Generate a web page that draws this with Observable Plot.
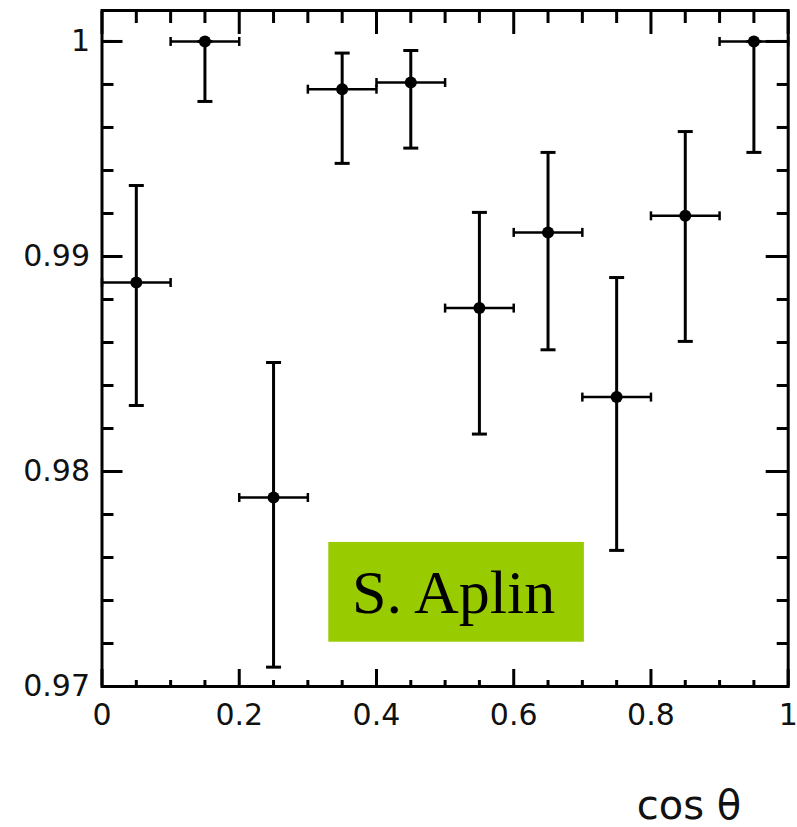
<!DOCTYPE html>
<html><head><meta charset="utf-8">
<script src="https://cdn.jsdelivr.net/npm/d3@7"></script>
<script src="https://cdn.jsdelivr.net/npm/@observablehq/plot@0.6"></script>
<style>html,body{margin:0;padding:0;background:#fff;overflow:hidden}</style>
</head><body><div id="chart"></div>
<script>
// Bin centres and edges (cos θ)
const binCenter = [0.05, 0.15, 0.25, 0.35, 0.45, 0.55, 0.65, 0.75, 0.85, 0.95];
const binLow    = [0.0, 0.1, 0.2, 0.3, 0.4, 0.5, 0.6, 0.7, 0.8, 0.9];
const binHigh   = [0.1, 0.2, 0.3, 0.4, 0.5, 0.6, 0.7, 0.8, 0.9, 1.0];
// Efficiency values and error-bar ends
const efficiency = [0.98879, 1.0000, 0.97879, 0.99778, 0.99809, 0.98760, 0.99112, 0.98346, 0.99189, 1.0000];
const errUpper   = [0.99330, 1.0000, 0.98507, 0.99946, 0.99958, 0.99205, 0.99484, 0.98902, 0.99581, 1.0000];
const errLower   = [0.98307, 0.99721, 0.97090, 0.99433, 0.99504, 0.98174, 0.98566, 0.97633, 0.98605, 0.99484];
// Tick values
const yMajor = [0.97, 0.98, 0.99, 1];
const yMinor = [0.972, 0.974, 0.976, 0.978, 0.982, 0.984, 0.986, 0.988, 0.992, 0.994, 0.996, 0.998, 1.0];
const xMajor = [0, 0.2, 0.4, 0.6, 0.8, 1];
const xMinor = [0.05, 0.1, 0.15, 0.25, 0.3, 0.35, 0.45, 0.5, 0.55, 0.65, 0.7, 0.75, 0.85, 0.9, 0.95];
const xLabels = ["0", "0.2", "0.4", "0.6", "0.8", "1"];
const yLabels = ["0.97", "0.98", "0.99", "1"];
const xTitle = "cos θ";
// Annotation box (data units)
const noteText = ["S. Aplin"];
const noteBox = [{x1: 0.3305, x2: 0.703, y1: 0.97206, y2: 0.97670, tx: 0.5125, ty: 0.97432}];

const data = binCenter.map((x, i) => ({
  x, lo: binLow[i], hi: binHigh[i], y: efficiency[i], up: errUpper[i], dn: errLower[i]
}));

const hCap = {draw(ctx) { ctx.moveTo(-7.5, 0); ctx.lineTo(7.5, 0); }};
const vCap = {draw(ctx) { ctx.moveTo(0, -4.5); ctx.lineTo(0, 4.5); }};

const font = "DejaVu Sans, sans-serif";
const chart = Plot.plot({
  width: 797,
  height: 827,
  marginLeft: 101.5,
  marginRight: 9.3,
  marginTop: 10,
  marginBottom: 141,
  style: {fontFamily: font, fontSize: "30px", color: "#000", background: "#fff"},
  x: {domain: [0, 1]},
  y: {domain: [0.97, 1.00144]},
  marks: [
    // annotation
    Plot.rect(noteBox, {x1: "x1", x2: "x2", y1: "y1", y2: "y2", fill: "#99cc00"}),
    Plot.text(noteBox, {x: "tx", y: "ty", text: () => noteText[0], fontFamily: "Liberation Serif, Times New Roman, serif", fontSize: 62, fill: "#000", lineAnchor: "middle"}),
    // ticks: left / right / bottom / top (inward)
    Plot.axisY(yMajor, {anchor: "left", tickSize: -21, tickFormat: () => "", strokeWidth: 3}),
    Plot.axisY(yMinor, {anchor: "left", tickSize: -12, tickFormat: () => "", strokeWidth: 3}),
    Plot.axisY(yMajor, {anchor: "right", tickSize: -23, tickFormat: () => "", strokeWidth: 3}),
    Plot.axisY(yMinor, {anchor: "right", tickSize: -12, tickFormat: () => "", strokeWidth: 3}),
    Plot.axisX(xMajor, {anchor: "bottom", tickSize: -17, tickFormat: () => "", strokeWidth: 3}),
    Plot.axisX(xMinor, {anchor: "bottom", tickSize: -6, tickFormat: () => "", strokeWidth: 3}),
    Plot.axisX(xMajor, {anchor: "top", tickSize: -23, tickFormat: () => "", strokeWidth: 3}),
    Plot.axisX(xMinor, {anchor: "top", tickSize: -12, tickFormat: () => "", strokeWidth: 3}),
    // labels
    Plot.axisY(yMajor, {anchor: "left", tickSize: 0, tickPadding: 12, tickFormat: (d, i) => yLabels[i], fill: "#111", fontSize: 30}),
    Plot.axisX(xMajor, {anchor: "bottom", tickSize: 0, tickPadding: 17, tickFormat: (d, i) => xLabels[i], fill: "#111", fontSize: 30}),
    Plot.text([xTitle], {frameAnchor: "bottom-right", text: d => d, dx: -47, dy: 132, textAnchor: "end", lineAnchor: "bottom", fontSize: 40, fill: "#111"}),
    // error bars
    Plot.ruleX(data, {x: "x", y1: "dn", y2: "up", stroke: "#000", strokeWidth: 3}),
    Plot.ruleY(data, {y: "y", x1: "lo", x2: "hi", stroke: "#000", strokeWidth: 2.5}),
    Plot.dot(data, {x: "x", y: "up", symbol: hCap, stroke: "#000", strokeWidth: 3, r: 5}),
    Plot.dot(data, {x: "x", y: "dn", symbol: hCap, stroke: "#000", strokeWidth: 3, r: 5}),
    Plot.dot(data, {x: "lo", y: "y", symbol: vCap, stroke: "#000", strokeWidth: 2.5, r: 5}),
    Plot.dot(data, {x: "hi", y: "y", symbol: vCap, stroke: "#000", strokeWidth: 2.5, r: 5}),
    Plot.dot(data, {x: "x", y: "y", r: 6, fill: "#000", stroke: "none"}),
    Plot.frame({stroke: "#000", strokeWidth: 3})
  ]
});
document.getElementById("chart").append(chart);
</script>
</body></html>
